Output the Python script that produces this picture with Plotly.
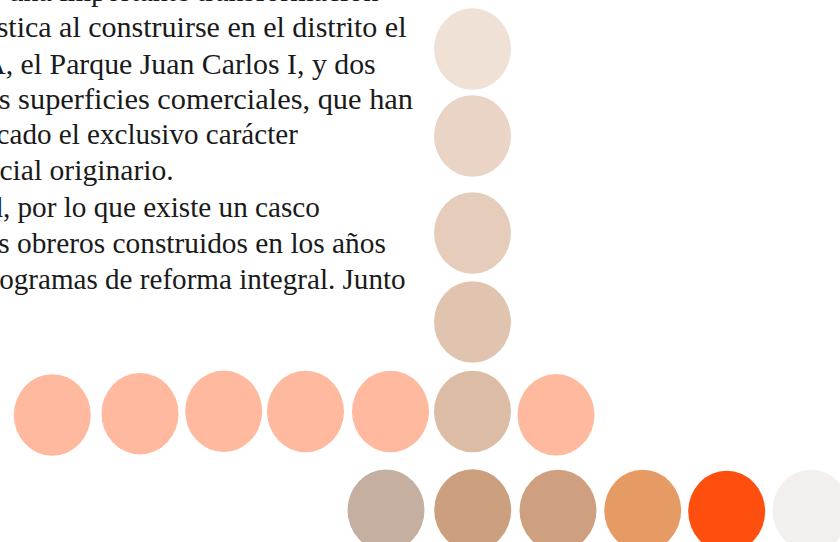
import plotly.graph_objects as go

# ---- data: dot centres (in chart units) and their colours ----
dot_x = [472.5, 472.5, 472.5, 472.5,
         52.3, 140.0, 223.7, 305.5, 390.5, 472.5, 556.0,
         386.0, 472.7, 558.0, 642.7, 726.7, 811.0]
dot_y = [49.0, 136.0, 233.0, 322.0,
         415.0, 413.7, 411.3, 411.5, 411.5, 411.5, 414.8,
         510.2, 510.0, 510.5, 510.5, 511.5, 510.5]
dot_color = ["#F0E1D6", "#E9D4C6", "#E6CDBB", "#E1C4AF",
             "#FFB99F", "#FFB99F", "#FFB99F", "#FFB99F", "#FFB99F", "#DDBCA5", "#FFB99F",
             "#C4AFA1", "#CC9F7E", "#CEA07F", "#E79B64", "#FF4F0E", "#F2EFEC"]

# ---- text lines (left part is cut by the page edge) ----
text_lines = [
    "ha experimentado una importante transformación",
    "urbanística al construirse en el distrito el",
    "IFEMA, el Parque Juan Carlos I, y dos",
    "grandes superficies comerciales, que han",
    "modificado el exclusivo carácter",
    "residencial originario.",
    "Madrid, por lo que existe un casco",
    "barrios obreros construidos en los años",
    "programas de reforma integral. Junto",
]

# layout of the text lines (right edge, baseline, font size in px)
line_right = [379, 408, 377, 414, 299, 175, 321, 387, 407]
line_baseline = [1, 37, 73, 109, 144, 180, 216.5, 252.5, 288.5]
line_size = [30, 30, 29.8, 30.4, 29.1, 29.6, 29.2, 29.4, 29.1]

RX, RY = 38.5, 40.75

fig = go.Figure()
fig.add_trace(go.Scatter(x=dot_x, y=dot_y, mode="markers",
                         marker=dict(size=1, color=dot_color, opacity=0),
                         hoverinfo="skip", showlegend=False))
for x, y, c in zip(dot_x, dot_y, dot_color):
    fig.add_shape(type="circle", xref="x", yref="y",
                  x0=x - RX, x1=x + RX, y0=y - RY, y1=y + RY,
                  fillcolor=c, line=dict(width=0), layer="below")

for t, xr, yb, fs in zip(text_lines, line_right, line_baseline, line_size):
    fig.add_annotation(text=t, xref="paper", yref="paper",
                       x=xr / 840, y=1 - (yb - fs / 3) / 542,
                       xanchor="right", yanchor="middle", showarrow=False,
                       font=dict(family="Liberation Serif", size=fs, color="#1a1a1a"),
                       borderpad=0)

fig.update_layout(width=840, height=542, margin=dict(l=0, r=0, t=0, b=0),
                  paper_bgcolor="white", plot_bgcolor="white",
                  xaxis=dict(range=[0, 840], visible=False, fixedrange=True),
                  yaxis=dict(range=[542, 0], visible=False, fixedrange=True),
                  showlegend=False)
fig.write_html("out.html", config={"displayModeBar": False},
               post_script="document.body.style.margin='0px';document.body.style.overflow='hidden';")
